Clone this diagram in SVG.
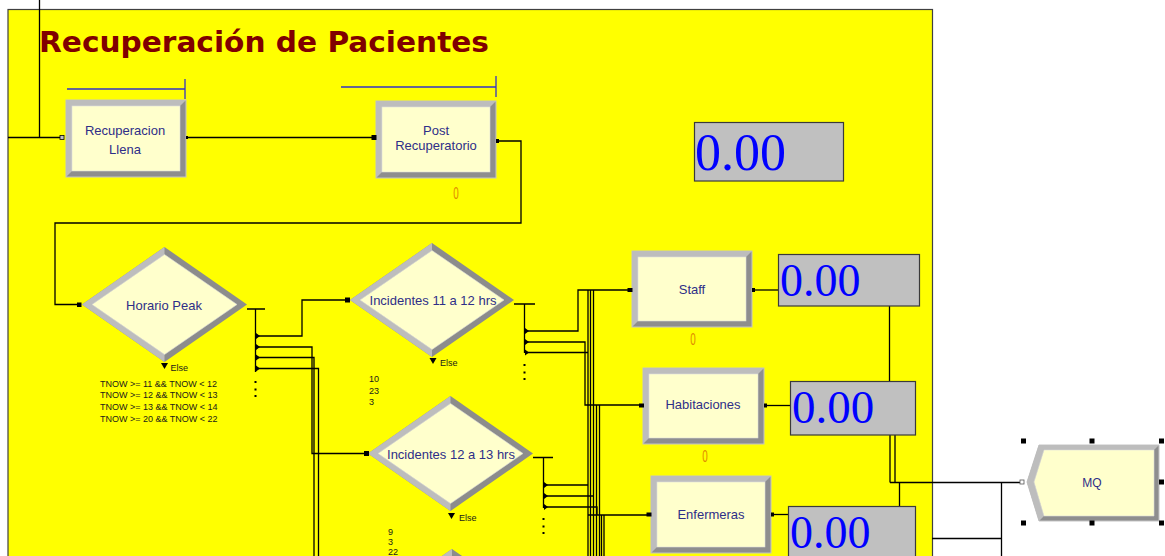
<svg xmlns="http://www.w3.org/2000/svg" width="1165" height="556" viewBox="0 0 1165 556">
<defs>
<style>
.bd{fill:#8e8e8e;stroke:#c4c4c4;stroke-width:1}
.bl{fill:#bdbdbd}
.in{fill:#ffffcc;stroke:#dcdcdc;stroke-width:0.6}
.lbl{font-family:"Liberation Sans",Arial,sans-serif;font-size:13px;fill:#2e2e88;text-anchor:middle}
.sm{font-family:"Liberation Sans",Arial,sans-serif;font-size:9px;fill:#1a1a1a}
.disp{fill:#c0c0c0;stroke:#3a3a3a;stroke-width:1.2}
.num{font-family:"Liberation Serif","Times New Roman",serif;fill:#0000ff}
.cn{fill:none;stroke:#000;stroke-width:1.3}
.q{fill:none;stroke:#3434c4;stroke-width:1.3}
.zero{font-family:"Liberation Sans",Arial,sans-serif;font-size:16px;fill:#e08a00;text-anchor:middle}
.pt{fill:#000}
.h{fill:#000}
</style>
</defs>
<rect x="0" y="0" width="1165" height="556" fill="#ffffff"/>
<rect x="8" y="9.5" width="924.5" height="560" fill="#ffff00" stroke="#404040" stroke-width="1.2"/>
<text x="39" y="52" font-family="'DejaVu Sans',Verdana,sans-serif" font-weight="bold" font-size="28" fill="#800000" textLength="450" lengthAdjust="spacingAndGlyphs">Recuperación de Pacientes</text>

<g id="connectors">
<path class="cn" d="M39.5 0 V137.5 M8 137.5 H62"/>
<path class="cn" d="M187 137.5 H374"/>
<path class="cn" d="M497 141 H521 V223 H55 V304.5 H80"/>
<path class="cn" d="M247 309 H265 M255.5 309 V372"/>
<path class="cn" d="M256 336 H302 V300 H347"/>
<path class="cn" d="M256 347 H312 V453.5 H366"/>
<path class="cn" d="M256 357.5 H314 V556"/>
<path class="cn" d="M256 368.5 H318.5 V556"/>
<path class="cn" d="M514 304 H535 M524.5 304 V353"/>
<path class="cn" d="M525 331 H578 V290 H629"/>
<path class="cn" d="M525 342 H585 V405 H641"/>
<path class="cn" d="M525 352.5 H588"/>
<path class="cn" d="M588 290 V556 M590.5 290 V556 M593.5 290 V556"/>
<path class="cn" d="M596.5 405 V556 M599.5 405 V556"/>
<path class="cn" d="M533 457.5 H553 M543.5 457.5 V508"/>
<path class="cn" d="M544 485 H588 M544 496 H593.5 M544 507 H597 V515"/>
<path class="cn" d="M588 515 H648"/>
<path class="cn" d="M601.5 515 V556 M604 515 V556"/>
<path class="cn" d="M753 290 H778"/>
<path class="cn" d="M765 405.5 H790.5"/>
<path class="cn" d="M772 514.5 H788"/>
<path class="cn" d="M889.5 306 V381.5"/>
<path class="cn" d="M890 435 V482.5 M895 435 V482.5 M890 482.5 H1022 M899.5 482.5 V506.5"/>
<path class="cn" d="M1001.5 482.5 V556 M932 538.5 H1001.5"/>
<path class="pt" d="M256 333 L260 336 L256 339Z M256 344 L260 347 L256 350Z M256 354.5 L260 357.5 L256 360.5Z M256 365.5 L260 368.5 L256 371.5Z"/>
<path class="pt" d="M525 328 L529 331 L525 334Z M525 339 L529 342 L525 345Z M525 349.5 L529 352.5 L525 355.5Z"/>
<path class="pt" d="M544 482 L548 485 L544 488Z M544 493 L548 496 L544 499Z M544 504 L548 507 L544 510Z"/>
<path class="pt" d="M254.5 381 h2 v2 h-2Z M254.5 388.5 h2 v2 h-2Z M254.5 395 h2 v2 h-2Z"/>
<path class="pt" d="M523.5 364 h2 v2 h-2Z M523.5 371.5 h2 v2 h-2Z M523.5 378 h2 v2 h-2Z"/>
<path class="pt" d="M542.5 518 h2 v2 h-2Z M542.5 525.5 h2 v2 h-2Z M542.5 532 h2 v2 h-2Z"/>
<path class="q" d="M67 89 H185 M185 79 V99"/>
<path class="q" d="M341 87 H496 M496 76 V97"/>
</g>

<g id="recuperacion-llena">
<rect class="bd" x="66" y="100" width="120" height="77"/>
<polygon class="bl" points="66,100 186,100 180,106 72,106 72,171 66,177"/>
<rect class="in" x="72" y="106" width="108" height="65"/>
<rect x="60" y="135.5" width="4" height="4" fill="#c0c0c0" stroke="#000" stroke-width="0.8"/>
<rect class="pt" x="186" y="136" width="2" height="3"/>
<text class="lbl" x="125" y="134.5">Recuperacion</text>
<text class="lbl" x="125" y="153.5">Llena</text>
</g>

<g id="post-recuperatorio">
<rect class="bd" x="376" y="101" width="120" height="77"/>
<polygon class="bl" points="376,101 496,101 490,107 382,107 382,172 376,178"/>
<rect class="in" x="382" y="107" width="108" height="65"/>
<rect class="pt" x="371.5" y="135" width="5" height="5"/>
<rect class="pt" x="496" y="139" width="3" height="4"/>
<text class="lbl" x="436" y="134.5">Post</text>
<text class="lbl" x="436" y="149.5">Recuperatorio</text>
<text class="zero" x="456" y="199" textLength="5.5" lengthAdjust="spacingAndGlyphs">0</text>
</g>

<g id="display-top">
<rect class="disp" x="694.5" y="122.5" width="149" height="58.5"/>
<text class="num" x="695" y="170" font-size="52">0.00</text>
</g>

<g id="horario-peak">
<polygon points="82,304.5 164.5,247 247,304.5 164.5,362" fill="#8c8c8c"/>
<polygon class="bl" points="82,304.5 164.5,247 164.5,254.5 92,304.5 164.5,354.5 164.5,362"/>
<polygon class="in" points="92,304.5 164.5,254.5 237,304.5 164.5,354.5"/>
<rect class="pt" x="77" y="302.5" width="4.5" height="4.5"/>
<text class="lbl" x="164" y="309.5">Horario Peak</text>
<path class="pt" d="M161 363 H168 L164.5 369Z"/>
<text class="sm" x="170.5" y="371" font-size="8.5">Else</text>
<text class="sm" x="100" y="386.5">TNOW &gt;= 11 &amp;&amp; TNOW &lt; 12</text>
<text class="sm" x="100" y="398">TNOW &gt;= 12 &amp;&amp; TNOW &lt; 13</text>
<text class="sm" x="100" y="410">TNOW &gt;= 13 &amp;&amp; TNOW &lt; 14</text>
<text class="sm" x="100" y="422">TNOW &gt;= 20 &amp;&amp; TNOW &lt; 22</text>
</g>

<g id="incidentes-11-12">
<polygon points="350,300 432,243 514,300 432,357" fill="#8c8c8c"/>
<polygon class="bl" points="350,300 432,243 432,250.5 360,300 432,349.5 432,357"/>
<polygon class="in" points="360,300 432,250.5 504,300 432,349.5"/>
<rect class="pt" x="345" y="297.5" width="5" height="5"/>
<text class="lbl" x="433" y="304.5">Incidentes 11 a 12 hrs</text>
<path class="pt" d="M429.5 358 H436.5 L433 364Z"/>
<text class="sm" x="440" y="366" font-size="8.5">Else</text>
<text class="sm" x="369" y="382">10</text>
<text class="sm" x="369" y="394">23</text>
<text class="sm" x="369" y="405">3</text>
</g>

<g id="incidentes-12-13">
<polygon points="368,453.5 450.5,396 533,453.5 450.5,511" fill="#8c8c8c"/>
<polygon class="bl" points="368,453.5 450.5,396 450.5,403.5 378,453.5 450.5,503.5 450.5,511"/>
<polygon class="in" points="378,453.5 450.5,403.5 523,453.5 450.5,503.5"/>
<rect class="pt" x="364" y="451" width="5" height="5"/>
<text class="lbl" x="451" y="459">Incidentes 12 a 13 hrs</text>
<path class="pt" d="M448 513 H455 L451.5 519Z"/>
<text class="sm" x="459" y="521" font-size="8.5">Else</text>
<text class="sm" x="388" y="535">9</text>
<text class="sm" x="388" y="545">3</text>
<text class="sm" x="388" y="555">22</text>
</g>

<g id="decide-next">
<polygon points="370,606 452,549 534,606 452,663" fill="#8c8c8c"/>
<polygon class="bl" points="370,606 452,549 452,556.5 380,606"/>
<polygon class="in" points="380,606 452,556.5 524,606 452,655"/>
</g>

<g id="staff">
<rect class="bd" x="632" y="251" width="120" height="76"/>
<polygon class="bl" points="632,251 752,251 746,257 638,257 638,321 632,327"/>
<rect class="in" x="638" y="257" width="108" height="64"/>
<rect class="pt" x="627.5" y="288" width="5" height="4"/>
<rect class="pt" x="752" y="288" width="3" height="4"/>
<text class="lbl" x="692" y="293.5">Staff</text>
<text class="zero" x="693" y="345" textLength="5.5" lengthAdjust="spacingAndGlyphs">0</text>
</g>
<g id="display-staff">
<rect class="disp" x="778.5" y="254.5" width="141" height="51.5"/>
<text class="num" x="780" y="295.5" font-size="46">0.00</text>
</g>

<g id="habitaciones">
<rect class="bd" x="643" y="368" width="121" height="76"/>
<polygon class="bl" points="643,368 764,368 758,374 649,374 649,438 643,444"/>
<rect class="in" x="649" y="374" width="109" height="64"/>
<rect class="pt" x="639" y="403.5" width="5" height="4"/>
<rect class="pt" x="764" y="403.5" width="3" height="4"/>
<text class="lbl" x="703" y="408.5">Habitaciones</text>
<text class="zero" x="705" y="462" textLength="5.5" lengthAdjust="spacingAndGlyphs">0</text>
</g>
<g id="display-habitaciones">
<rect class="disp" x="790.5" y="381.5" width="125" height="53.5"/>
<text class="num" x="792" y="422.5" font-size="47">0.00</text>
</g>

<g id="enfermeras">
<rect class="bd" x="651" y="476" width="120" height="77"/>
<polygon class="bl" points="651,476 771,476 765,482 657,482 657,547 651,553"/>
<rect class="in" x="657" y="482" width="108" height="65"/>
<rect class="pt" x="646.5" y="512.5" width="5" height="4"/>
<rect class="pt" x="771" y="512.5" width="3" height="4"/>
<text class="lbl" x="711" y="518.5">Enfermeras</text>
</g>
<g id="display-enfermeras">
<rect class="disp" x="788.5" y="506.5" width="127" height="60"/>
<text class="num" x="790" y="547.5" font-size="46">0.00</text>
</g>

<g id="mq">
<polygon points="1027,482 1039,445 1159,445 1159,521 1039,521" fill="#8e8e8e" stroke="#c4c4c4" stroke-width="1"/>
<polygon class="bl" points="1027,482 1039,445 1159,445 1154,450 1044,450 1034,482 1044,516 1039,521"/>
<polygon class="in" points="1034,482 1044,450 1154,450 1154,516 1044,516"/>
<rect x="1020" y="480" width="4" height="4" fill="#fff" stroke="#555" stroke-width="0.8"/>
<text x="1092" y="486.5" font-family="'Liberation Sans',Arial,sans-serif" font-size="12" fill="#2e2e88" text-anchor="middle">MQ</text>
<rect class="h" x="1021" y="438.5" width="5" height="5"/>
<rect class="h" x="1089.5" y="438.5" width="5" height="5"/>
<rect class="h" x="1159" y="438.5" width="5" height="5"/>
<rect class="h" x="1159" y="479.5" width="5" height="5"/>
<rect class="h" x="1021" y="520.5" width="5" height="5"/>
<rect class="h" x="1089.5" y="520.5" width="5" height="5"/>
<rect class="h" x="1159" y="520.5" width="5" height="5"/>
</g>
</svg>
